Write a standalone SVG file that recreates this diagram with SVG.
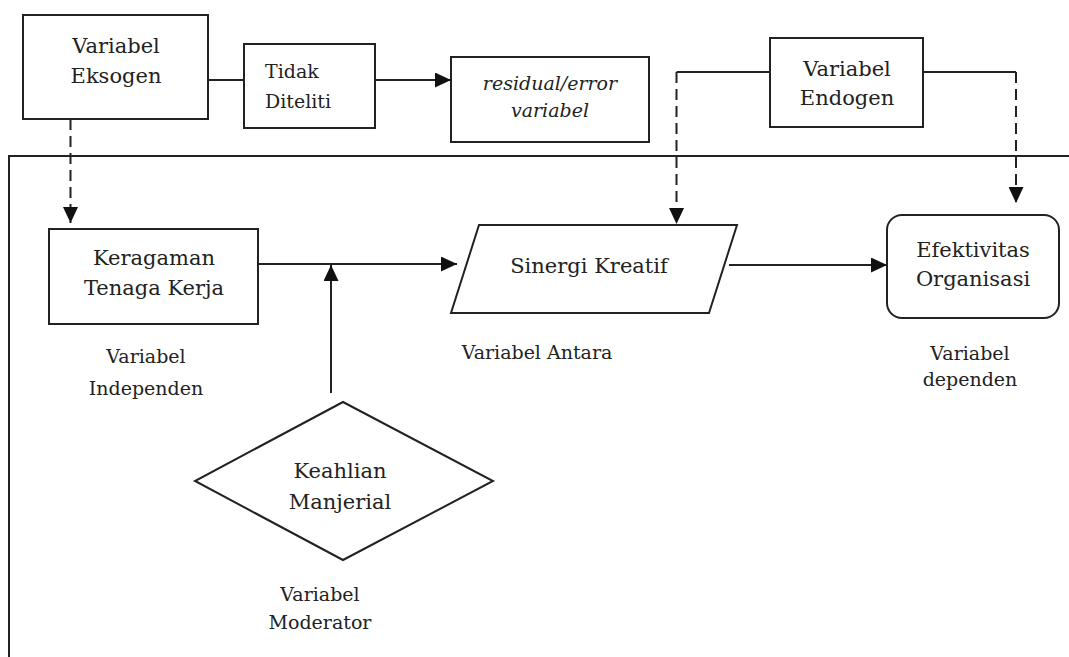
<svg xmlns="http://www.w3.org/2000/svg" width="1069" height="657" viewBox="0 0 1069 657">
<style>
.box{fill:#fff;stroke:#222;stroke-width:2}
.ln{fill:none;stroke:#222;stroke-width:2}
.dash{fill:none;stroke:#222;stroke-width:2;stroke-dasharray:11 6}
.t{font-family:"DejaVu Serif","Liberation Serif",serif;font-size:21px;fill:#222;text-anchor:middle}
.s{font-family:"DejaVu Serif","Liberation Serif",serif;font-size:19px;fill:#222;text-anchor:middle}
.tl{font-family:"DejaVu Serif","Liberation Serif",serif;font-size:19px;fill:#222}
.it{font-style:italic}
</style>
<defs>
<marker id="arr" viewBox="0 0 16 15" refX="16" refY="7.5" markerWidth="16" markerHeight="15" markerUnits="userSpaceOnUse" orient="auto">
<path d="M0,0 L16,7.5 L0,15 z" fill="#111"/>
</marker>
</defs>
<rect width="1069" height="657" fill="#fff"/>
<g id="frame">
<path class="ln" d="M9,657 V156 H1069"/>
</g>
<g id="connectors">
<path class="ln" d="M208,80 H244"/>
<path class="ln" d="M375,80 H451" marker-end="url(#arr)"/>
<path class="dash" d="M70.5,119 V223" marker-end="url(#arr)"/>
<path class="ln" d="M770,72 H676.5"/>
<path class="dash" d="M676.5,72 V224" marker-end="url(#arr)"/>
<path class="ln" d="M923,72 H1016"/>
<path class="dash" d="M1016,72 V203" marker-end="url(#arr)"/>
<path class="ln" d="M258,264 H457" marker-end="url(#arr)"/>
<path class="ln" d="M331,393 V265" marker-end="url(#arr)"/>
<path class="ln" d="M729,265 H887" marker-end="url(#arr)"/>
</g>
<g id="eksogen">
<rect class="box" x="23" y="15" width="185" height="104"/>
<text class="t" x="116" y="53">Variabel</text>
<text class="t" x="116" y="83">Eksogen</text>
</g>
<g id="tidak-diteliti">
<rect class="box" x="244" y="44" width="131" height="84"/>
<text class="tl" x="265" y="78">Tidak</text>
<text class="tl" x="265" y="108">Diteliti</text>
</g>
<g id="residual">
<rect class="box" x="451" y="57" width="198" height="85"/>
<text class="s it" x="550" y="90">residual/error</text>
<text class="s it" x="550" y="117">variabel</text>
</g>
<g id="endogen">
<rect class="box" x="770" y="38" width="153" height="89"/>
<text class="t" x="847" y="76">Variabel</text>
<text class="t" x="847" y="105">Endogen</text>
</g>
<g id="keragaman">
<rect class="box" x="49" y="229" width="209" height="95"/>
<text class="t" x="154" y="265">Keragaman</text>
<text class="t" x="154" y="295">Tenaga Kerja</text>
<text class="s" x="146" y="363">Variabel</text>
<text class="s" x="146" y="395">Independen</text>
</g>
<g id="sinergi">
<path class="box" d="M479,225 H737 L709,313 H451 Z"/>
<text class="t" x="589" y="273">Sinergi Kreatif</text>
<text class="s" x="537" y="359">Variabel Antara</text>
</g>
<g id="efektivitas">
<rect class="box" x="887" y="215" width="172" height="103" rx="15" ry="15"/>
<text class="t" x="973" y="257">Efektivitas</text>
<text class="t" x="973" y="286">Organisasi</text>
<text class="s" x="970" y="360">Variabel</text>
<text class="s" x="970" y="386">dependen</text>
</g>
<g id="keahlian">
<path class="box" d="M343,402 L493,481 L343,560 L195,481 Z"/>
<text class="t" x="340" y="478">Keahlian</text>
<text class="t" x="340" y="509">Manjerial</text>
<text class="s" x="320" y="601">Variabel</text>
<text class="s" x="320" y="629">Moderator</text>
</g>
</svg>
